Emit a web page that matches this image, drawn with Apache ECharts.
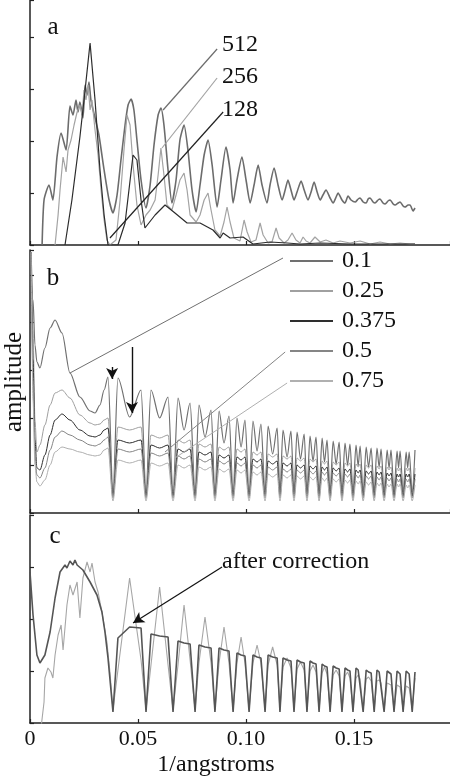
<!DOCTYPE html>
<html><head><meta charset="utf-8">
<script src="https://cdn.jsdelivr.net/npm/echarts@6/dist/echarts.min.js"></script>
<style>html,body{margin:0;padding:0;background:#fff}#c{width:450px;height:780px}</style>
</head><body><div id="c"></div>
<script>
// ---------- tick labels ----------
const xTickLabels = ['0', '0.05', '0.10', '0.15'];
const xMax = 0.1944;

// ---------- panel a (number of samples) ----------
const xA512 = [0.0056,0.0065,0.0088,0.0106,0.0125,0.0144,0.0167,0.0185,0.0199,0.0213,0.0222,0.0231,0.0245,0.0255,0.0264,0.0273,0.0282,0.0301,0.0319,0.0343,0.0366,0.0384,0.0403,0.0421,0.0440,0.0454,0.0468,0.0481,0.0495,0.0514,0.0537,0.0556,0.0574,0.0593,0.0606,0.0620,0.0639,0.0657,0.0676,0.0694,0.0713,0.0731,0.0750,0.0769,0.0787,0.0806,0.0824,0.0843,0.0866,0.0884,0.0907,0.0926,0.0940,0.0958,0.0981,0.1000,0.1019,0.1037,0.1056,0.1074,0.1097,0.1111,0.1130,0.1148,0.1167,0.1181,0.1194,0.1208,0.1222,0.1236,0.1255,0.1269,0.1287,0.1301,0.1315,0.1329,0.1343,0.1356,0.1370,0.1389,0.1403,0.1417,0.1426,0.1444,0.1458,0.1472,0.1486,0.1505,0.1519,0.1528,0.1542,0.1556,0.1565,0.1574,0.1588,0.1597,0.1611,0.1620,0.1634,0.1644,0.1657,0.1667,0.1681,0.1690,0.1704,0.1713,0.1727,0.1736,0.1750,0.1759,0.1773,0.1782];
const yA512 = [0,45,60,45,88,112,95,139,130,145,133,143,127,160,150,163,145,127,110,75,45,32,50,85,120,140,146,135,105,65,37,60,100,130,137,120,75,42,65,105,120,95,55,33,60,90,105,80,38,65,98,75,42,65,88,65,42,60,80,60,42,60,77,60,45,55,65,55,45,53,64,55,45,53,63,53,45,50,55,47,42,48,52,45,42,49,45,43,46,47,43,42,46,47,43,42,45,46,42,41,44,45,41,40,42,43,39,38,40,40,34,37];
const xA256 = [0.0116,0.0130,0.0139,0.0153,0.0167,0.0176,0.0190,0.0204,0.0218,0.0231,0.0241,0.0250,0.0259,0.0269,0.0278,0.0287,0.0301,0.0315,0.0329,0.0343,0.0356,0.0370,0.0398,0.0417,0.0435,0.0449,0.0463,0.0477,0.0495,0.0514,0.0537,0.0556,0.0579,0.0593,0.0606,0.0620,0.0634,0.0657,0.0676,0.0694,0.0713,0.0727,0.0741,0.0769,0.0787,0.0806,0.0824,0.0838,0.0856,0.0880,0.0898,0.0912,0.0926,0.0944,0.0972,0.0991,0.1005,0.1023,0.1046,0.1065,0.1079,0.1102,0.1120,0.1139,0.1153,0.1176,0.1194,0.1213,0.1231,0.1250,0.1264,0.1278,0.1296,0.1319,0.1343,0.1370,0.1403,0.1435,0.1481,0.1528,0.1574,0.1620,0.1667,0.1713,0.1759,0.1782];
const yA256 = [0,30,55,88,73,95,105,120,133,140,130,155,145,160,135,145,115,90,55,25,5,0,5,45,95,130,120,80,40,20,30,35,45,70,97,70,40,35,50,65,72,55,30,23,30,45,52,35,15,9,23,38,23,7,4,25,13,3,5,22,10,2,3,17,7,2,5,12,5,2,8,4,2,8,3,5,2,4,2,4,1,3,1,2,1,1];
const xA128 = [0.0162,0.0194,0.0231,0.0255,0.0278,0.0301,0.0324,0.0343,0.0361,0.0407,0.0440,0.0458,0.0477,0.0495,0.0514,0.0532,0.0579,0.0625,0.0671,0.0727,0.0787,0.0847,0.0880,0.0894,0.0926,0.0986,0.1032,0.1111,0.1190,0.1250,0.1343,0.1481,0.1620,0.1782];
const yA128 = [0,45,108,155,202,145,75,30,0,0,22,55,90,85,45,17,30,40,32,22,22,15,7,12,7,8,1,3,2,1,2,1,1,1];

// ---------- panel b (five parameter values) ----------
const legendB = ['0.1', '0.25', '0.375', '0.5', '0.75'];
const xLeadB = [0.0005,0.0014,0.0023,0.0032,0.0046,0.0069,0.0093,0.0116,0.0148,0.0185,0.0231,0.0278,0.0301,0.0324,0.0343,0.0361];
const xPeriod = [0.0384,0.0407,0.0461,0.0514, 0.0537,0.0560,0.0600,0.0639, 0.0662,0.0685,0.0713,0.0741, 0.0764,0.0782,0.0810,0.0838, 0.0856,0.0875,0.0898,0.0921, 0.0940,0.0958,0.0977,0.0995, 0.1014,0.1032,0.1051,0.1069, 0.1088,0.1102,0.1123,0.1144, 0.1157,0.1171,0.1190,0.1208, 0.1222,0.1236,0.1252,0.1269, 0.1282,0.1296,0.1310,0.1324, 0.1338,0.1352,0.1363,0.1375, 0.1389,0.1403,0.1417,0.1431, 0.1444,0.1458,0.1470,0.1481, 0.1495,0.1509,0.1519,0.1528, 0.1542,0.1556,0.1567,0.1579, 0.1593,0.1606,0.1616,0.1625, 0.1639,0.1653,0.1662,0.1671, 0.1685,0.1699,0.1706,0.1713, 0.1727,0.1741,0.1748,0.1755, 0.1769,0.1782];
const yB01 = [261,213,168,151,145,165,185,193,180,140,116,102,100,108,123,136,
 21,135,96,123, 21,123,95,116, 21,115,83,110, 21,108,76,103, 21,102,70,97, 21,95,66,93, 21,92,62,89, 21,87,59,85, 21,83,56,82, 21,81,54,79,
 21,77,52,76, 21,75,51,73, 21,72,49,71, 21,70,48,69, 21,68,47,67, 21,66,46,65, 21,65,46,64, 21,63,45,63, 21,62,45,62, 21,61,45,61, 21,63];
const yB025 = [261,183,93,61,68,88,108,120,123,115,98,90,88,89,93,95,
 19,86,83,86, 19,78,75,78, 19,73,70,73, 19,69,66,69, 19,66,63,66, 19,64,61,64, 19,61,58,61, 19,59,56,59, 19,57,54,57, 19,55,52,55,
 19,54,51,54, 19,52,49,52, 19,51,48,51, 19,50,47,50, 19,49,46,49, 19,48,45,48, 19,47,44,47, 19,46,43,46, 19,45,42,45, 19,45,42,45, 19,45];
const yB0375 = [261,153,73,45,43,58,78,93,99,93,83,77,76,78,83,85,
 17,73,70,73, 17,68,65,68, 17,64,61,64, 17,61,58,61, 17,58,55,58, 17,56,53,56, 17,54,51,54, 17,52,49,52, 17,50,47,50, 17,48,45,48,
 17,47,44,47, 17,46,43,46, 17,45,42,45, 17,44,41,44, 17,43,40,43, 17,42,39,42, 17,41,38,41, 17,40,37,40, 17,39,36,39, 17,39,36,39, 17,39];
const yB05 = [261,133,58,38,35,45,63,76,82,78,73,68,67,69,73,76,
 15,64,61,64, 15,60,57,60, 15,57,54,57, 15,54,51,54, 15,52,49,52, 15,50,47,50, 15,48,45,48, 15,46,43,46, 15,44,41,44, 15,43,40,43,
 15,42,39,42, 15,41,38,41, 15,40,37,40, 15,39,36,39, 15,38,35,38, 15,37,34,37, 15,36,33,36, 15,35,32,35, 15,34,31,34, 15,34,31,34, 15,34];
const yB075 = [261,113,48,31,27,33,48,61,66,64,61,58,57,58,63,65,
 12,53,50,53, 12,50,47,50, 12,48,45,48, 12,46,43,46, 12,44,41,44, 12,43,40,43, 12,41,38,41, 12,39,36,39, 12,38,35,38, 12,37,34,37,
 12,36,33,36, 12,35,32,35, 12,34,31,34, 12,33,30,33, 12,32,29,32, 12,31,28,31, 12,30,27,30, 12,29,26,29, 12,29,26,29, 12,28,25,28, 12,28];

// ---------- panel c (before / after correction) ----------
const xLeadCDark = [0.0000,0.0014,0.0032,0.0046,0.0069,0.0093,0.0116,0.0139,0.0162,0.0171,0.0185,0.0199,0.0208,0.0218,0.0245,0.0278,0.0310,0.0333,0.0347,0.0361];
const yLeadCDark = [151,108,68,60,68,91,125,151,158,155,162,158,163,158,153,141,128,111,91,65];
const yPerCDark = [11,85,96,95, 11,89,87,86, 11,82,80,79, 11,78,76,75, 11,75,73,72, 11,70,68,67, 11,68,66,65, 11,68,66,65, 11,65,63,62, 11,63,61,60,
 11,62,60,59, 11,59,57,56, 11,57,55,54, 11,55,53,52, 11,55,53,52, 11,53,51,50, 11,53,51,50, 11,52,50,49, 11,52,50,49, 11,52,50,49, 11,51];
const xLeadCLight = [0.0051,0.0065,0.0069,0.0083,0.0097,0.0106,0.0116,0.0130,0.0144,0.0153,0.0171,0.0185,0.0199,0.0218,0.0231,0.0245,0.0264,0.0278,0.0287,0.0301,0.0315,0.0333,0.0356,0.0370];
const yLeadCLight = [-5,21,45,55,51,45,68,88,98,73,118,138,128,141,105,145,161,151,160,141,131,111,81,51];
const yPerCLight = [13,53,145,63, 13,58,136,58, 13,58,118,63, 13,60,106,60, 13,60,96,60, 13,60,86,60, 13,60,78,60, 13,58,76,58, 13,56,65,55, 13,54,61,53,
 13,52,58,51, 13,50,56,49, 13,48,53,47, 13,47,51,45, 13,45,48,44, 13,44,46,42, 13,42,43,40, 13,40,40,38, 13,38,38,36, 13,37,36,35, 13,45];

// ---------- build ----------
const F = "'Liberation Serif','Times New Roman',serif";
const zip = (xs, ys) => xs.map((x, i) => [x, ys[i]]);
const xB = xLeadB.concat(xPeriod);

const grids = [
  {left: 30, top: 0, width: 420, height: 245},
  {left: 30, top: 250, width: 420, height: 263},
  {left: 30, top: 515, width: 420, height: 208}
];
const yMax = [245, 263, 208];
const yInt = [52, 47.6, 52];
const axisCol = '#222';

const xAxes = grids.map((g, i) => ({
  type: 'value', gridIndex: i, min: 0, max: xMax, interval: 0.05,
  axisLine: {show: true, onZero: false, lineStyle: {color: axisCol, width: 1.5}},
  axisTick: {show: true, inside: true, length: 4, lineStyle: {color: axisCol, width: 1.2}},
  splitLine: {show: false},
  axisLabel: {show: i === 2, showMaxLabel: false, margin: 5, color: '#111', fontSize: 22, fontFamily: F,
    formatter: v => { const k = Math.round(v / 0.05); return xTickLabels[k] !== undefined ? xTickLabels[k] : ''; }}
}));
const yAxes = grids.map((g, i) => ({
  type: 'value', gridIndex: i, min: 0, max: yMax[i], interval: yInt[i],
  axisLine: {show: true, onZero: false, lineStyle: {color: axisCol, width: 1.5}},
  axisTick: {show: true, inside: true, length: 4, lineStyle: {color: axisCol, width: 1.2}},
  axisLabel: {show: false}, splitLine: {show: false}
}));

function line(name, gi, data, color, width, extra) {
  return Object.assign({
    type: 'line', name, xAxisIndex: gi, yAxisIndex: gi, data,
    showSymbol: false, symbol: 'none', clip: true, animation: false, z: 2,
    lineStyle: {color, width}, itemStyle: {color}
  }, extra || {});
}
function ml(color, width, pairs, arrow) {
  return {
    silent: true, animation: false, symbol: arrow ? ['none', 'arrow'] : ['none', 'none'],
    symbolSize: arrow ? [9, 11] : 0, label: {show: false},
    lineStyle: {color, width, type: 'solid'}, emphasis: {disabled: true},
    data: pairs.map(p => [{coord: p[0]}, {coord: p[1]}])
  };
}
const sm = {smooth: 0.3, smoothMonotone: 'x'};

const series = [
  line('512', 0, zip(xA512, yA512), '#6c6c6c', 1.6, Object.assign({smooth: 0.2, markLine: ml('#6c6c6c', 1.2, [[[0.0866, 196], [0.0616, 135]]])})),
  line('256', 0, zip(xA256, yA256), '#a3a3a3', 1.2, {markLine: ml('#a3a3a3', 1.2, [[[0.0866, 167], [0.0611, 97]]])}),
  line('128', 0, zip(xA128, yA128), '#2c2c2c', 1.2, {markLine: ml('#222', 1.2, [[[0.0894, 133], [0.0370, 7]]])}),
  line('0.1', 1, zip(xB, yB01), '#707070', 1.2, Object.assign({markLine: ml('#707070', 1, [[[0.1171, 255], [0.0185, 140]]])}, sm)),
  line('0.25', 1, zip(xB, yB025), '#a0a0a0', 1, Object.assign({}, sm)),
  line('0.375', 1, zip(xB, yB0375), '#2e2e2e', 1, Object.assign({markLine: ml('#111', 1.4, [[[0.0380, 146], [0.0380, 134]], [[0.0472, 166], [0.0472, 100]]], true)}, sm)),
  line('0.5', 1, zip(xB, yB05), '#858585', 1, Object.assign({markLine: ml('#858585', 1, [[[0.1181, 161], [0.0625, 61]]])}, sm)),
  line('0.75', 1, zip(xB, yB075), '#b0b0b0', 1, Object.assign({markLine: ml('#b0b0b0', 1, [[[0.1190, 130], [0.0671, 55]]])}, sm)),
  line('before correction', 2, zip(xLeadCLight.concat(xPeriod), yLeadCLight.concat(yPerCLight)), '#a6a6a6', 1.1, {}),
  line('after correction', 2, zip(xLeadCDark.concat(xPeriod), yLeadCDark.concat(yPerCDark)), '#555555', 1.6,
    {markLine: ml('#111', 1.2, [[[0.0889, 156], [0.0477, 100]]], true)})
];

function txt(text, x, y, size, align, extra) {
  return Object.assign({type: 'text', x, y, z: 100, silent: true,
    style: {text, font: size + 'px ' + F, fill: '#111', align: align || 'left', verticalAlign: 'middle'}}, extra || {});
}
const lbl = (t, x, y) => ({type: 'text', x, y, z: 100, silent: true,
  style: {text: t, font: '25px ' + F, fill: '#111', align: 'center', verticalAlign: 'middle', backgroundColor: '#fff', padding: [2, 8, 4, 8]}});

const option = {
  backgroundColor: '#ffffff',
  animation: false,
  grid: grids,
  xAxis: xAxes,
  yAxis: yAxes,
  series,
  legend: {
    data: legendB, orient: 'vertical', left: 285, top: 244, itemWidth: 43, itemHeight: 2, icon: 'rect',
    itemGap: 6, selectedMode: false,
    textStyle: {fontSize: 24, fontFamily: F, color: '#111', lineHeight: 24, padding: [0, 0, 0, 4]}
  },
  graphic: [
    lbl('a', 53, 27), lbl('b', 53, 278), lbl('c', 55, 536),
    txt('512', 222, 45, 24), txt('256', 222, 77, 24), txt('128', 222, 110, 24),
    txt('after correction', 222, 562, 24),
    txt('1/angstroms', 216, 765, 24, 'center'),
    {type: 'text', x: 14, y: 382, rotation: Math.PI / 2, z: 100, silent: true,
      style: {text: 'amplitude', font: '25px ' + F, fill: '#111', align: 'center', verticalAlign: 'middle'}}
  ]
};
const chart = echarts.init(document.getElementById('c'), null, {renderer: 'canvas'});
chart.setOption(option);
</script></body></html>
